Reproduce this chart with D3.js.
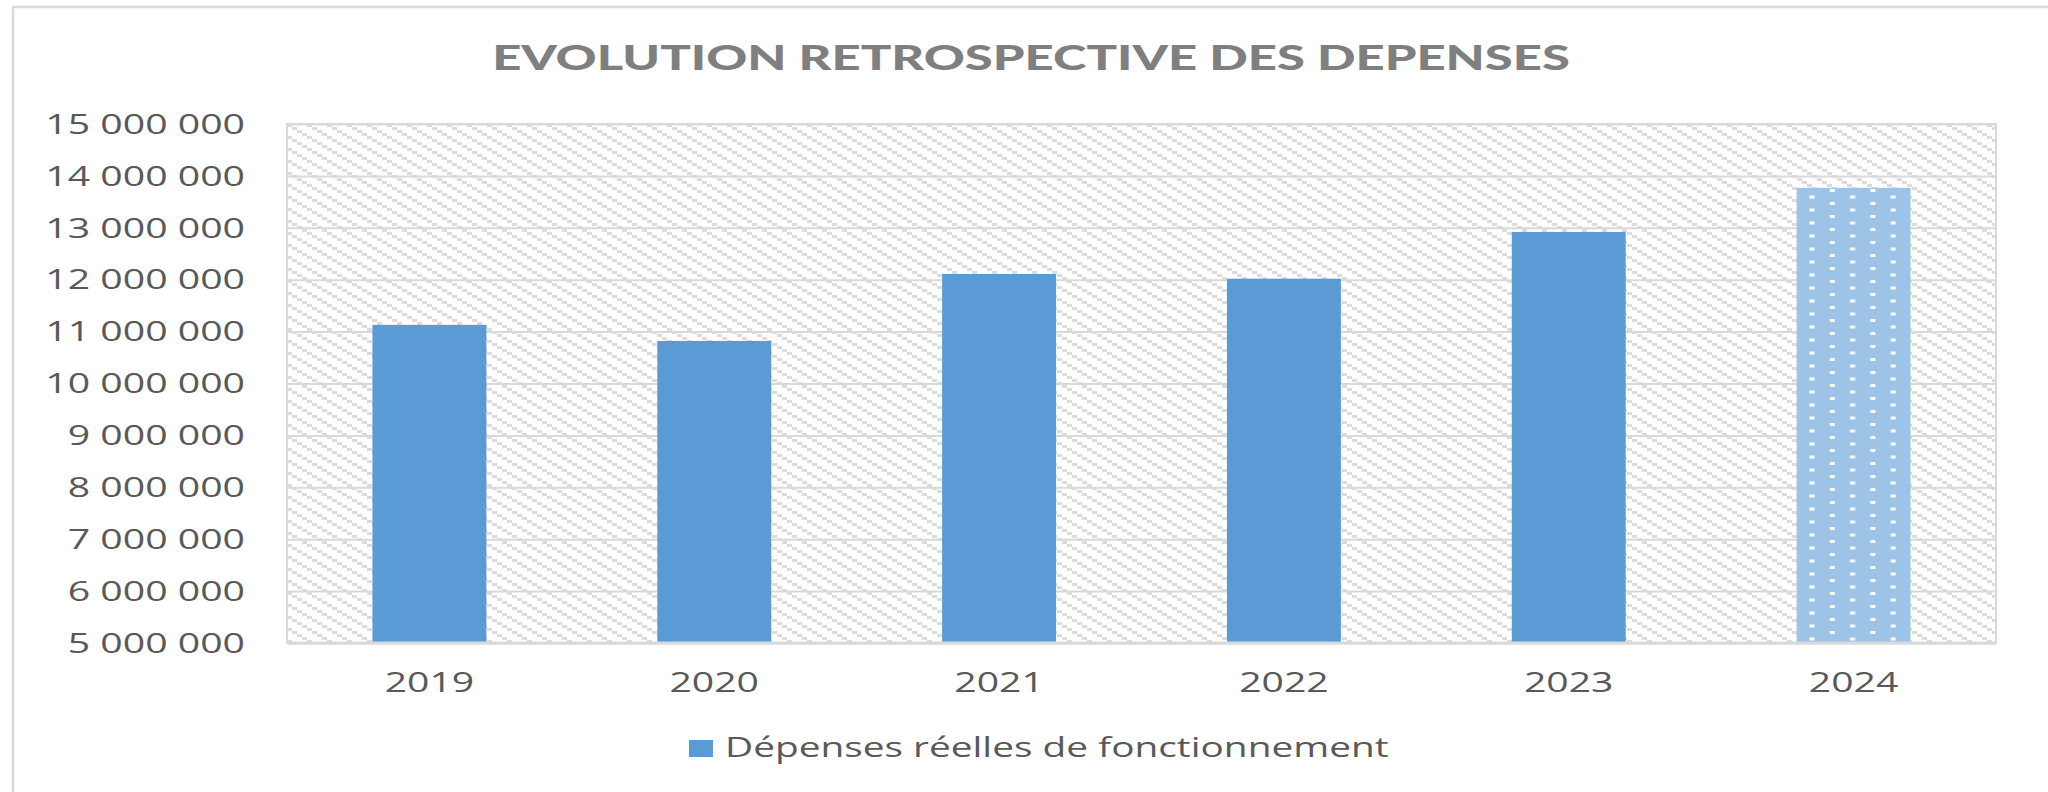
<!DOCTYPE html>
<html>
<head>
<meta charset="utf-8">
<script src="https://cdn.jsdelivr.net/npm/d3@7"></script>
<style>
  body { margin: 0; background: #fff; }
  svg { display: block; }
</style>
</head>
<body>
<div id="chart"></div>
<script>
// data
const years = ["2019", "2020", "2021", "2022", "2023", "2024"];
const depenses = [11130000, 10820000, 12110000, 12020000, 12920000, 13770000];
const estimated = [false, false, false, false, false, true];
const yTicks = [5000000, 6000000, 7000000, 8000000, 9000000, 10000000,
                11000000, 12000000, 13000000, 14000000, 15000000];
const titleText = "EVOLUTION RETROSPECTIVE DES DEPENSES";
const seriesName = "Dépenses réelles de fonctionnement";

const cte = {
    w: 2048,
    h: 792,
    stretch: 1.45,   // the whole picture is widened, text too
    barColor: "#5B9BD5",
    estColor: "#9DC3E6",
    gridColor: "#d9d9d9",
    textColor: "#595959"
};

const margin = { top: 124, right: 52, bottom: 149, left: 287 };
const width = cte.w - margin.left - margin.right;
const height = cte.h - margin.top - margin.bottom;

const frFormat = d3.formatLocale({
    decimal: ",", thousands: " ", grouping: [3], currency: ["", " €"]
}).format(",");

const svg = d3.select("#chart").append("svg")
    .attr("width", cte.w)
    .attr("height", cte.h);

// patterns
const defs = svg.append("defs");
const hatch = defs.append("pattern")
    .attr("id", "hatch")
    .attr("patternUnits", "userSpaceOnUse")
    .attr("width", 20)
    .attr("height", 12);
hatch.append("rect").attr("width", 20).attr("height", 12).attr("fill", "#fff");
[0, 1, 2, 3].forEach(i => {
    hatch.append("rect")
        .attr("x", i * 5)
        .attr("y", i * 3)
        .attr("width", 5)
        .attr("height", 3)
        .attr("fill", "#dcdcdc");
});

const dots = defs.append("pattern")
    .attr("id", "dots")
    .attr("patternUnits", "userSpaceOnUse")
    .attr("width", 40.6)
    .attr("height", 13);
dots.append("rect").attr("width", 40.6).attr("height", 13).attr("fill", cte.estColor);
dots.append("rect").attr("x", 0).attr("y", 0).attr("width", 5).attr("height", 3).attr("fill", "#fff");
dots.append("rect").attr("x", 20.3).attr("y", 6.5).attr("width", 5).attr("height", 3).attr("fill", "#fff");

// outer frame
svg.append("rect")
    .attr("x", 13)
    .attr("y", 7)
    .attr("width", cte.w)
    .attr("height", cte.h)
    .attr("fill", "none")
    .attr("stroke", cte.gridColor)
    .attr("stroke-width", 2.5);

const g = svg.append("g")
    .attr("transform", `translate(${margin.left}, ${margin.top})`);

const xScale = d3.scaleBand()
    .domain(years)
    .range([0, width])
    .paddingInner(0.6)
    .paddingOuter(0.3);

const yScale = d3.scaleLinear()
    .domain([5000000, 15000000])
    .range([height, 0]);

// plot area background
g.append("rect")
    .attr("width", width)
    .attr("height", height)
    .attr("fill", "url(#hatch)")
    .attr("stroke", cte.gridColor)
    .attr("stroke-width", 2);

// gridlines
g.append("g")
    .attr("class", "grid")
    .call(d3.axisLeft(yScale).tickValues(yTicks).tickSize(-width).tickFormat(""))
    .call(s => s.select(".domain").remove())
    .selectAll("line")
    .attr("stroke", cte.gridColor)
    .attr("stroke-width", 2);

// bars
g.selectAll(".bar")
    .data(years.map((y, i) => ({ year: y, value: depenses[i], est: estimated[i] })))
    .enter().append("rect")
    .attr("class", "bar")
    .attr("x", d => xScale(d.year))
    .attr("y", d => yScale(d.value))
    .attr("width", xScale.bandwidth())
    .attr("height", d => height - yScale(d.value))
    .attr("fill", d => d.est ? "url(#dots)" : cte.barColor);

// x axis line
g.append("line")
    .attr("x1", 0)
    .attr("x2", width)
    .attr("y1", height)
    .attr("y2", height)
    .attr("stroke", cte.gridColor)
    .attr("stroke-width", 3);

// y axis labels
g.append("g")
    .attr("class", "y-axis")
    .call(d3.axisLeft(yScale).tickValues(yTicks).tickSize(0).tickFormat(frFormat))
    .call(s => s.select(".domain").remove())
    .selectAll("text")
    .attr("x", -42 / 1.48)
    .attr("dy", "0.35em")
    .attr("transform", "scale(1.48,1)")
    .style("font-family", "'Open Sans'")
    .style("font-size", "26.5px")
    .style("fill", cte.textColor);

// x axis labels
g.append("g")
    .attr("class", "x-axis")
    .attr("transform", `translate(0, ${height})`)
    .call(d3.axisBottom(xScale).tickSize(0))
    .call(s => s.select(".domain").remove())
    .selectAll("text")
    .attr("y", 49)
    .attr("dy", 0)
    .attr("transform", `scale(${cte.stretch},1)`)
    .style("font-family", "'Open Sans'")
    .style("font-size", "27px")
    .style("fill", cte.textColor);

// title
svg.append("text")
    .attr("transform", "translate(1031, 70) scale(1.45,1)")
    .attr("text-anchor", "middle")
    .style("font-family", "Lato")
    .style("font-weight", "900")
    .style("font-size", "35px")
    .style("fill", "#7f7f7f")
    .text(titleText);

// legend
const legend = svg.append("g").attr("class", "legend");
legend.append("rect")
    .attr("x", 689)
    .attr("y", 740)
    .attr("width", 24)
    .attr("height", 17)
    .attr("fill", cte.barColor);
legend.append("text")
    .attr("transform", "translate(725, 757) scale(1.465,1)")
    .style("font-family", "'Open Sans'")
    .style("font-size", "26.5px")
    .style("fill", cte.textColor)
    .text(seriesName);
</script>
</body>
</html>
